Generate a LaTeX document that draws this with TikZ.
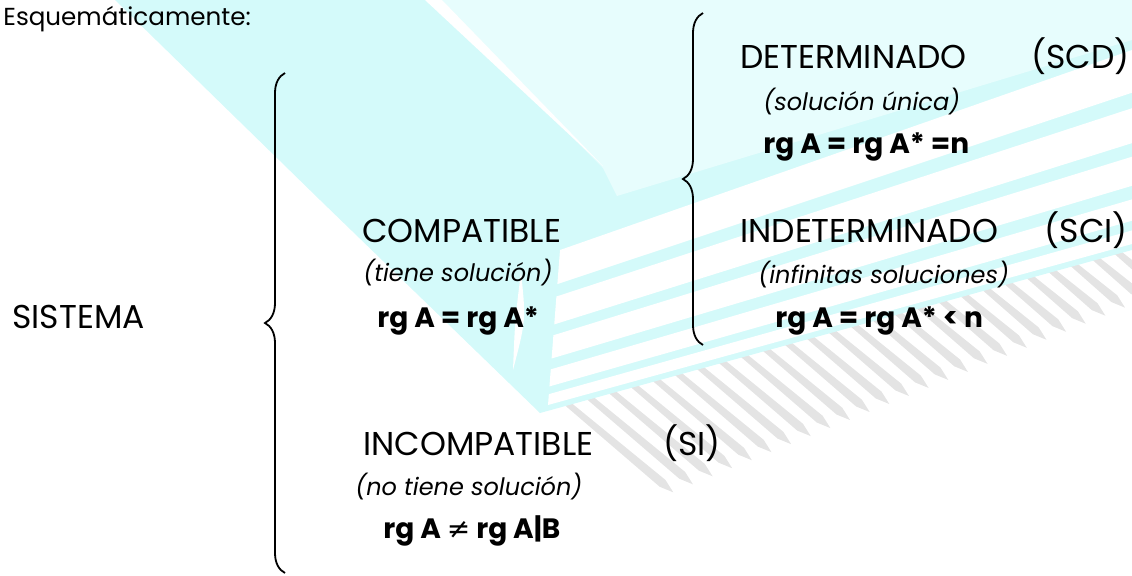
\documentclass[tikz,border=0pt]{standalone}
\usepackage{fontspec}
\setmainfont{Poppins}
\newfontfamily\simbolos{DejaVu Sans}
\usetikzlibrary{calc,decorations.pathreplacing}

\definecolor{cian}{RGB}{212,250,250}
\definecolor{cianclaro}{RGB}{231,253,253}
\definecolor{sombra}{RGB}{228,228,228}

\begin{document}
\begin{tikzpicture}[x=0.5pt, y=-0.5pt, every node/.style={inner sep=0pt, anchor=base west}, clase/.style={font=\fontsize{16.5}{20}\selectfont}, nota/.style={font=\fontsize{12}{14}\selectfont\itshape}, rango/.style={font=\fontsize{14}{17}\selectfont\bfseries}, encabezado/.style={font=\fontsize{12.3}{15}\selectfont}, llave/.style={draw=black, line width=0.9pt, decorate, decoration={brace, amplitude=10pt}}]
\useasboundingbox (0,0) rectangle (1132,575);

% sombra de las hojas: trazos inclinados bajo el canto
\foreach \i in {0,...,26} {
  \pgfmathsetmacro{\xs}{562+22*\i}
  \pgfmathsetmacro{\ys}{413-0.275*(\xs-540)-8}
  \pgfmathsetmacro{\largo}{140-0.14*(\xs-600)}
  \coordinate (s) at (\xs,\ys);
  \fill[sombra] ($(s)+(-4.5,0)$) -- ($(s)+(4.5,0)$)
    -- ($(s)+({(\largo-14)*cos(40)+2.9},{(\largo-14)*sin(40)-3.4})$)
    -- ($(s)+({\largo*cos(40)},{\largo*sin(40)})$)
    -- ($(s)+({(\largo-14)*cos(40)-2.9},{(\largo-14)*sin(40)+3.4})$) -- cycle;
}

% tapa del libro
\fill[cian] (115,0) -- (320,200) -- (540,413) -- (1132,250) -- (1132,0) -- cycle;
\fill[cianclaro] (436,0) -- (1132,0) -- (1132,40) -- (617,196) -- (603,168) -- cycle;
\fill[white] (425,0) -- (442,0) -- (603,166) -- cycle;
\fill[white] (521,272) .. controls (526,320) .. (513,370) .. controls (515,320) .. (521,272) -- cycle;

% hojas
\coordinate (hsi) at (560,250);
\coordinate (hii) at (548,405);
\coordinate (hsd) at (1132,50);
\coordinate (hid) at (1132,244);
\foreach \a/\b in {0/0.22, 0.30/0.48, 0.55/0.70, 0.77/0.88, 0.93/1} {
  \fill[white] ($(hsi)!\a!(hii)$) -- ($(hsd)!\a!(hid)$) -- ($(hsd)!\b!(hid)$) -- ($(hsi)!\b!(hii)$) -- cycle;
}

\node[encabezado] (titulo) at (3,25) {Esquemáticamente:};

\node[clase] (sistema) at (12,328) {SISTEMA};

\node[clase] (compat) at (362,242) {COMPATIBLE};
\node[nota] (compatnota) at (363,281) {(tiene solución)};
\node[rango] (compatrg) at (377,327) {rg A = rg A*};

\node[clase] (determ) at (740,68) {DETERMINADO};
\node[clase, anchor=base east] (scd) at (1130,68) {(SCD)};
\node[nota] (determnota) at (763,110) {(solución única)};
\node[rango] (determrg) at (763,153) {rg A = rg A* =n};

\node[clase] (indet) at (740,242) {INDETERMINADO};
\node[clase, anchor=base east] (sci) at (1128,242) {(SCI)};
\node[nota] (indetnota) at (758,283) {(infinitas soluciones)};
\node[rango] (indetrg) at (775,327) {rg A = rg A* < n};

\node[clase] (incomp) at (363,455) {INCOMPATIBLE};
\node[clase] (si) at (663,455) {(SI)};
\node[nota] (incompnota) at (355,495) {(no tiene solución)};
\node[rango] (incomprg) at (383,538) {rg A {\simbolos\mdseries ≠} rg A|B};

% llaves
\coordinate (ll1a) at (285,573);
\coordinate (ll1b) at (285,73);
\coordinate (ll2a) at (703,345);
\coordinate (ll2b) at (703,13);
\draw[llave] (ll1a) -- (ll1b);
\draw[llave] (ll2a) -- (ll2b);
\end{tikzpicture}
\end{document}
